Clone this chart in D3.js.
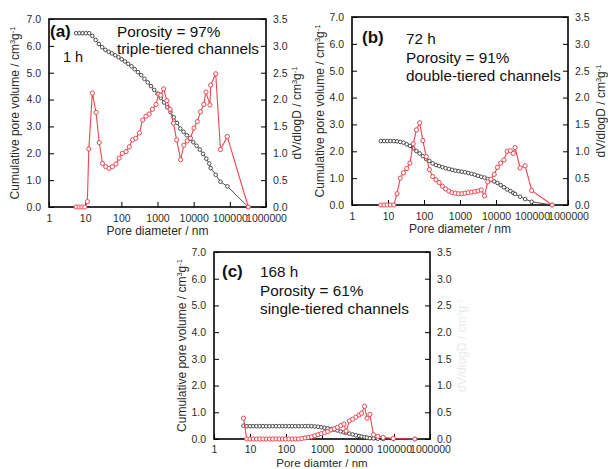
<!DOCTYPE html>
<html><head><meta charset="utf-8">
<script src="https://cdn.jsdelivr.net/npm/d3@7"></script>
<style>body{margin:0;background:#fff}svg{display:block}</style>
</head><body><svg id="c" width="608" height="469"></svg>
<script>
// ---------- data ----------
const xTickValues = [1, 10, 100, 1000, 10000, 100000, 1000000];
const leftTickValues = [0, 1, 2, 3, 4, 5, 6, 7];
const rightTickValues = [0, 0.5, 1, 1.5, 2, 2.5, 3, 3.5];

// Panel (a) 1 h
const diamA = [5.6, 6.9, 8.5, 10.5, 12.9, 15.8, 19.5, 24.0, 29.5, 36.3, 44.7, 55.0, 67.6, 83.2, 102, 126, 155, 191, 234, 288, 355, 437, 537, 661, 813, 1000, 1230, 1514, 1862, 2291, 2818, 3467, 4266, 5248, 6457, 7943, 9772, 12020, 14790, 18200, 22390, 26920, 29510, 40740, 54950, 85110, 323600];
const cumA = [6.47, 6.47, 6.47, 6.47, 6.47, 6.37, 6.22, 6.07, 5.95, 5.85, 5.78, 5.72, 5.65, 5.58, 5.50, 5.42, 5.33, 5.24, 5.13, 5.02, 4.91, 4.77, 4.64, 4.50, 4.36, 4.22, 4.06, 3.89, 3.71, 3.53, 3.34, 3.13, 2.92, 2.80, 2.67, 2.54, 2.41, 2.28, 2.14, 1.98, 1.80, 1.62, 1.45, 1.20, 0.94, 0.77, 0];
const diamAdv = [5.6, 6.8, 8.1, 9.8, 11.5, 12.6, 15.8, 20.0, 24.5, 30.2, 37.2, 45.7, 56.2, 70.8, 87.1, 107, 135, 166, 204, 251, 316, 389, 479, 589, 724, 912, 1072, 1230, 1479, 1820, 2239, 2754, 3388, 4365, 5370, 6607, 8128, 10230, 12590, 15490, 19050, 21880, 28180, 29510, 40740, 54950, 85110, 323600];
const dvA = [0, 0, 0, 0, 0.10, 1.08, 2.12, 1.76, 1.20, 0.81, 0.75, 0.72, 0.75, 0.80, 0.91, 1.00, 1.03, 1.12, 1.25, 1.28, 1.38, 1.62, 1.69, 1.73, 1.82, 1.91, 2.10, 2.08, 2.20, 1.98, 1.82, 1.56, 1.25, 0.88, 1.15, 1.23, 1.28, 1.47, 1.59, 1.77, 1.91, 2.14, 1.90, 2.27, 2.48, 1.07, 1.31, 0];

// Panel (b) 72 h
const diamB = [6.3, 7.8, 9.5, 11.7, 14.5, 17.8, 21.9, 26.9, 33.1, 40.7, 50.1, 61.7, 75.9, 93.3, 115, 141, 174, 214, 263, 324, 398, 490, 603, 741, 912, 1122, 1380, 1698, 2089, 2570, 3162, 3890, 4786, 5888, 7244, 8913, 10960, 13490, 16600, 20420, 25120, 30200, 33880, 46770, 64570, 97720, 363100];
const cumB = [2.38, 2.38, 2.38, 2.38, 2.38, 2.37, 2.35, 2.32, 2.26, 2.20, 2.11, 2.01, 1.92, 1.82, 1.71, 1.64, 1.55, 1.49, 1.45, 1.41, 1.37, 1.34, 1.31, 1.28, 1.26, 1.24, 1.22, 1.19, 1.16, 1.13, 1.09, 1.05, 1.02, 0.97, 0.93, 0.88, 0.82, 0.74, 0.66, 0.58, 0.52, 0.45, 0.41, 0.31, 0.22, 0.12, 0];
const dvB = [0, 0, 0, 0, 0, 0.21, 0.50, 0.60, 0.68, 0.78, 1.14, 1.40, 1.53, 1.20, 0.90, 0.66, 0.53, 0.47, 0.42, 0.35, 0.30, 0.26, 0.23, 0.22, 0.21, 0.21, 0.22, 0.23, 0.24, 0.25, 0.26, 0.28, 0.17, 0.43, 0.48, 0.57, 0.70, 0.78, 0.84, 1.00, 1.01, 0.96, 1.07, 0.69, 0.73, 0.27, 0];

// Panel (c) 168 h
const diamC = [6.6, 8.1, 10.0, 12.3, 15.1, 18.6, 22.9, 28.2, 34.7, 42.7, 52.5, 64.6, 79.4, 97.7, 120, 148, 182, 224, 275, 339, 417, 513, 631, 776, 955, 1175, 1445, 1778, 2188, 2692, 3311, 4074, 4677, 5754, 7079, 8710, 10720, 12590, 15140, 17780, 21380, 26920, 35480, 50120, 95500, 380200];
const cumC = [0.50, 0.48, 0.48, 0.48, 0.48, 0.48, 0.48, 0.48, 0.48, 0.48, 0.48, 0.48, 0.48, 0.48, 0.48, 0.48, 0.48, 0.48, 0.48, 0.48, 0.48, 0.48, 0.47, 0.46, 0.44, 0.42, 0.40, 0.38, 0.35, 0.32, 0.28, 0.25, 0.24, 0.20, 0.17, 0.14, 0.11, 0.09, 0.07, 0.05, 0.03, 0.02, 0.01, 0, 0, 0];
const dvC = [0.39, 0, 0, 0, 0, 0, 0, 0, 0, 0, 0, 0, 0, 0, 0, 0, 0, 0, 0.01, 0.02, 0.03, 0.04, 0.06, 0.08, 0.10, 0.12, 0.14, 0.17, 0.19, 0.22, 0.25, 0.28, 0.15, 0.34, 0.37, 0.41, 0.45, 0.48, 0.61, 0.39, 0.46, 0.08, 0.05, 0.03, 0.01, 0];

// ---------- layout ----------
const FONT = "'Liberation Sans', Arial, Helvetica, sans-serif";
const BLACK = "#3a3a3a";
const RED = "#ea4650";
const TXT = "#2b2b2b";

const panels = [
  { left: 49, top: 19, right: 266, bottom: 207, xPad: 8,
    cumX: diamA, cumY: cumA, dvX: diamAdv, dvY: dvA,
    xTitle: "Pore diameter / nm", xTitleY: 235, xTitleSize: 12, leftTitleX: 15, rightTitleX: 297, rightTitleOpacity: 1,
    texts: [
      { t: "(a)", x: 50, y: 37, bold: true, size: 17 },
      { t: "1 h", x: 63, y: 62, size: 14.5 },
      { t: "Porosity = 97%", x: 117, y: 37, size: 15.3 },
      { t: "triple-tiered channels", x: 117, y: 54, size: 15.3 }
    ] },
  { left: 352, top: 17, right: 568, bottom: 205, xPad: 8,
    cumX: diamB, cumY: cumB, dvX: diamB, dvY: dvB,
    xTitle: "Pore diameter / nm", xTitleY: 233, xTitleSize: 12, leftTitleX: 320, rightTitleX: 601, rightTitleOpacity: 1,
    texts: [
      { t: "(b)", x: 362, y: 43, bold: true, size: 17 },
      { t: "72 h", x: 406, y: 44, size: 15.3 },
      { t: "Porosity = 91%", x: 406, y: 63, size: 15.3 },
      { t: "double-tiered channels", x: 406, y: 81, size: 15.3 }
    ] },
  { left: 214, top: 252, right: 430, bottom: 439, xPad: 7,
    cumX: diamC, cumY: cumC, dvX: diamC, dvY: dvC,
    xTitle: "Pore diamter / nm", xTitleY: 466.8, xTitleSize: 11.5, leftTitleX: 182, rightTitleX: 462, rightTitleOpacity: 0.1,
    texts: [
      { t: "(c)", x: 222, y: 277, bold: true, size: 17 },
      { t: "168 h", x: 260, y: 277, size: 15.3 },
      { t: "Porosity = 61%", x: 260, y: 296, size: 15.3 },
      { t: "single-tiered channels", x: 260, y: 314, size: 15.3 }
    ] }
];

const svg = d3.select("#c");

function unitTitle(sel, main) {
  sel.append("tspan").text(main);
  sel.append("tspan").attr("font-size", "7.5px").attr("dy", -4.5).text("3");
  sel.append("tspan").attr("dy", 4.5).text("g");
  sel.append("tspan").attr("font-size", "7.5px").attr("dy", -4.5).text("-1");
}

panels.forEach(p => {
  const g = svg.append("g");
  const x = d3.scaleLog().domain([1, 1e6]).range([p.left, p.right]);
  const yL = d3.scaleLinear().domain([0, 7]).range([p.bottom, p.top]);
  const yR = d3.scaleLinear().domain([0, 3.5]).range([p.bottom, p.top]);

  // minor tick value sets
  const xMinor = [];
  for (let e = 0; e < 6; e++) for (let m = 2; m <= 9; m++) xMinor.push(m * Math.pow(10, e));
  const yLMinor = d3.range(0, 7.001, 0.2).filter(v => Math.abs(v - Math.round(v)) > 1e-6);
  const yRMinor = d3.range(0, 3.501, 0.1).filter(v => Math.abs(v * 2 - Math.round(v * 2)) > 1e-6);

  // bottom axis (inward ticks)
  const bx = g.append("g").attr("transform", `translate(0,${p.bottom})`);
  bx.call(d3.axisTop(x).tickValues(xMinor).tickSize(3).tickFormat(""));
  bx.call(d3.axisTop(x).tickValues(xTickValues).tickSize(5).tickFormat(""));
  bx.selectAll(".domain").remove();
  const bxl = g.append("g").attr("transform", `translate(0,${p.bottom})`)
    .call(d3.axisBottom(x).tickValues(xTickValues).tickSize(0).tickPadding(p.xPad).tickFormat(d3.format("d")));
  bxl.select(".domain").remove();
  bxl.selectAll("text").attr("font-family", FONT).attr("font-size", "10.5px").attr("fill", TXT);

  // left axis
  const lx = g.append("g").attr("transform", `translate(${p.left},0)`);
  lx.call(d3.axisRight(yL).tickValues(yLMinor).tickSize(3).tickFormat(""));
  lx.call(d3.axisRight(yL).tickValues(leftTickValues).tickSize(5).tickFormat(""));
  lx.selectAll(".domain").remove();
  const lxl = g.append("g").attr("transform", `translate(${p.left},0)`)
    .call(d3.axisLeft(yL).tickValues(leftTickValues).tickSize(0).tickPadding(8).tickFormat(d3.format(".1f")));
  lxl.select(".domain").remove();
  lxl.selectAll("text").attr("font-family", FONT).attr("font-size", "10.5px").attr("fill", TXT);

  // right axis
  const rx = g.append("g").attr("transform", `translate(${p.right},0)`);
  rx.call(d3.axisLeft(yR).tickValues(yRMinor).tickSize(3).tickFormat(""));
  rx.call(d3.axisLeft(yR).tickValues(rightTickValues).tickSize(5).tickFormat(""));
  rx.selectAll(".domain").remove();
  const rxl = g.append("g").attr("transform", `translate(${p.right},0)`)
    .call(d3.axisRight(yR).tickValues(rightTickValues).tickSize(0).tickPadding(7).tickFormat(d3.format(".1f")));
  rxl.select(".domain").remove();
  rxl.selectAll("text").attr("font-family", FONT).attr("font-size", "10.5px").attr("fill", TXT);

  g.selectAll(".tick line").attr("stroke", "#000").attr("stroke-width", 1);

  // frame
  g.append("rect").attr("x", p.left).attr("y", p.top)
    .attr("width", p.right - p.left).attr("height", p.bottom - p.top)
    .attr("fill", "none").attr("stroke", "#000").attr("stroke-width", 1.6);

  // cumulative series
  const cum = p.cumX.map((d, i) => [d, p.cumY[i]]);
  g.append("path").datum(cum)
    .attr("d", d3.line().x(d => x(d[0])).y(d => yL(d[1])))
    .attr("fill", "none").attr("stroke", BLACK).attr("stroke-width", 0.9);
  g.append("g").selectAll("circle").data(cum).join("circle")
    .attr("cx", d => x(d[0])).attr("cy", d => yL(d[1])).attr("r", 1.8)
    .attr("fill", "#fff").attr("stroke", BLACK).attr("stroke-width", 0.9);

  // dV/dlogD series
  const dv = p.dvX.map((d, i) => [d, p.dvY[i]]);
  g.append("path").datum(dv)
    .attr("d", d3.line().x(d => x(d[0])).y(d => yR(d[1])))
    .attr("fill", "none").attr("stroke", RED).attr("stroke-width", 1.1);
  g.append("g").selectAll("circle").data(dv).join("circle")
    .attr("cx", d => x(d[0])).attr("cy", d => yR(d[1])).attr("r", 2.1)
    .attr("fill", "#fff").attr("stroke", RED).attr("stroke-width", 1);

  // axis titles
  const cy = (p.top + p.bottom) / 2;
  const lt = g.append("text").attr("transform", `translate(${p.leftTitleX},${cy}) rotate(-90)`)
    .attr("text-anchor", "middle").attr("dy", "0.35em")
    .attr("font-family", FONT).attr("font-size", "12px").attr("fill", TXT);
  unitTitle(lt, "Cumulative pore volume / cm");
  const rt = g.append("text").attr("transform", `translate(${p.rightTitleX},${cy}) rotate(-90)`)
    .attr("text-anchor", "middle").attr("dy", "0.35em").attr("opacity", p.rightTitleOpacity)
    .attr("font-family", FONT).attr("font-size", "12px").attr("fill", TXT);
  unitTitle(rt, "dV/dlogD / cm");
  g.append("text").attr("x", (p.left + p.right) / 2).attr("y", p.xTitleY)
    .attr("text-anchor", "middle").attr("font-family", FONT).attr("font-size", p.xTitleSize + "px")
    .attr("fill", TXT).text(p.xTitle);

  // annotations
  p.texts.forEach(t => {
    g.append("text").attr("x", t.x).attr("y", t.y)
      .attr("font-family", FONT).attr("font-size", t.size + "px")
      .attr("font-weight", t.bold ? "bold" : "normal").attr("fill", "#111").text(t.t);
  });
});
</script></body></html>
